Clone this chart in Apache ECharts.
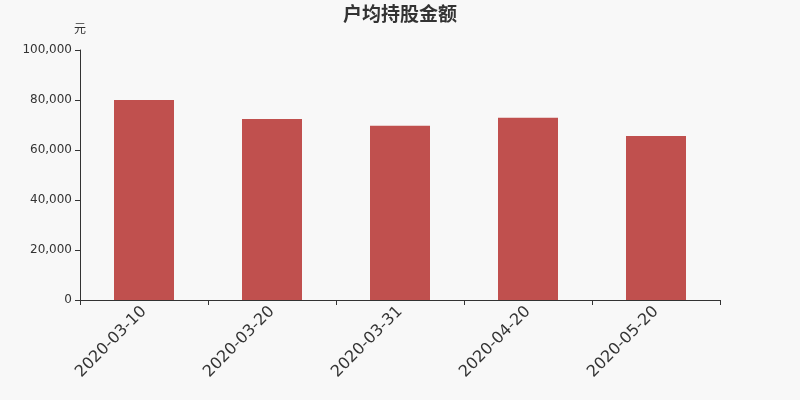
<!DOCTYPE html>
<html><head><meta charset="utf-8">
<script src="https://cdn.jsdelivr.net/npm/echarts@6/dist/echarts.min.js"></script>
<style>html,body{margin:0;padding:0;background:#f8f8f8;}#c{width:800px;height:400px;}</style>
</head><body><div id="c"></div>
<script>
const categories = ['2020-03-10','2020-03-20','2020-03-31','2020-04-20','2020-05-20'];
const values = [80000, 72400, 69700, 72900, 65600];
const chart = echarts.init(document.getElementById('c'));
chart.setOption({
  backgroundColor: '#f8f8f8',
  animation: false,
  title: { text: '户均持股金额', left: 'center', top: 2, padding: [2, 5],
    textStyle: { fontSize: 19, fontWeight: 'bold', color: '#333', fontFamily: 'Noto Sans CJK SC' } },
  grid: { left: 80, right: 80, top: 50, bottom: 100 },
  xAxis: { type: 'category', data: categories,
    axisLine: { lineStyle: { color: '#333' } },
    axisTick: { show: true, length: 5, lineStyle: { color: '#333' } },
    axisLabel: { rotate: 45, fontSize: 16, color: '#333', margin: 9, fontFamily: 'DejaVu Sans' } },
  yAxis: { type: 'value', min: 0, max: 100000, interval: 20000, name: '元',
    nameGap: 16, nameTextStyle: { color: '#333', fontSize: 12, align: 'center', fontFamily: 'Noto Sans CJK SC' },
    splitLine: { show: false },
    axisLine: { show: true, lineStyle: { color: '#333' } },
    axisTick: { show: true, length: 5, lineStyle: { color: '#333' } },
    axisLabel: { color: '#333', fontSize: 12, margin: 8, fontFamily: 'DejaVu Sans',
      formatter: v => v.toLocaleString('en-US') } },
  series: [{ type: 'bar', data: values, barWidth: 60, itemStyle: { color: '#c0504e' } }]
});
</script></body></html>
